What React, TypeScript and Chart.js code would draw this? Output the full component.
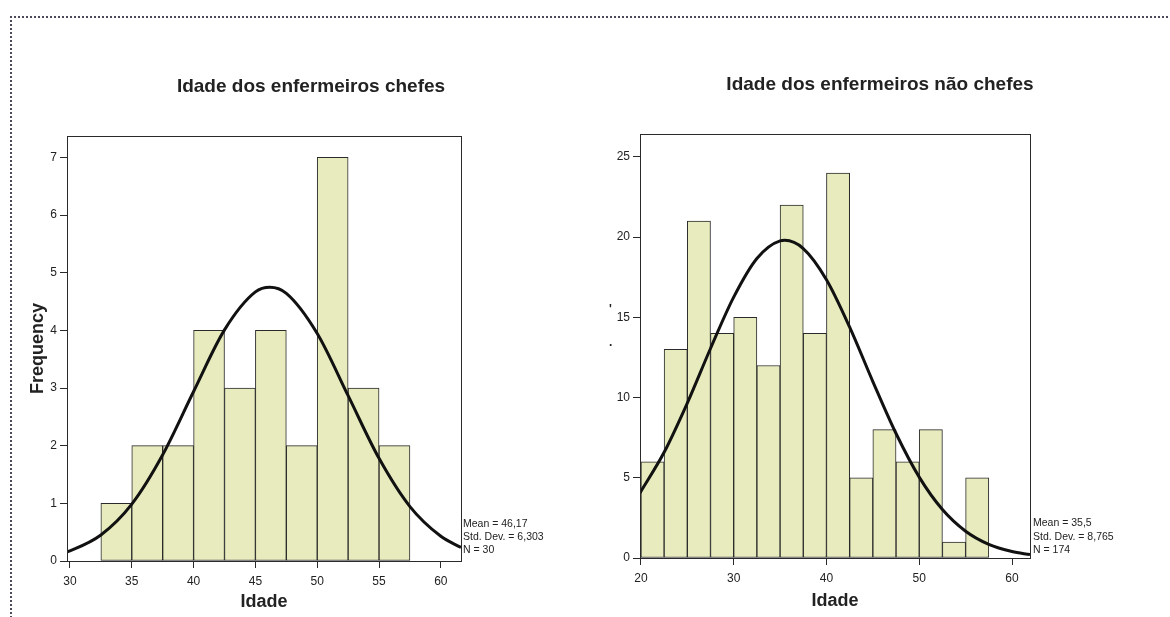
import React, { useEffect, useRef } from "react";
import { Chart, registerables } from "chart.js";

Chart.register(...registerables);

// ---------- data ----------
const leftTitle = "Idade dos enfermeiros chefes";
const rightTitle = "Idade dos enfermeiros não chefes";
const xAxisTitle = "Idade";
const yAxisTitle = "Frequency";

const leftBinCenters = [33.75, 36.25, 38.75, 41.25, 43.75, 46.25, 48.75, 51.25, 53.75, 56.25];
const leftCounts = [1, 2, 2, 4, 3, 4, 2, 7, 3, 2];
const leftCurveX = [29.76, 30, 32.5, 35, 37.5, 40, 42.5, 45, 46.17, 47.5, 50, 52.5, 55, 57.5, 60, 61.63];
const leftCurveY = [0.16, 0.177, 0.452, 0.987, 1.843, 2.94, 4.008, 4.666, 4.747, 4.642, 3.946, 2.867, 1.78, 0.943, 0.428, 0.234];
const leftXTicks = [30, 35, 40, 45, 50, 55, 60];
const leftYTicks = [0, 1, 2, 3, 4, 5, 6, 7];
const leftStats = ["Mean = 46,17", "Std. Dev. = 6,303", "N = 30"];

const rightBinCenters = [21.25, 23.75, 26.25, 28.75, 31.25, 33.75, 36.25, 38.75, 41.25, 43.75, 46.25, 48.75, 51.25, 53.75, 56.25];
const rightCounts = [6, 13, 21, 14, 15, 12, 22, 14, 24, 5, 8, 6, 8, 1, 5];
const rightCurveX = [19.9, 22.5, 25, 27.5, 30, 32.5, 35, 35.5, 37.5, 40, 42.5, 45, 47.5, 50, 52.5, 55, 57.5, 60, 61.94];
const rightCurveY = [4.06, 6.59, 9.66, 13.06, 16.26, 18.67, 19.77, 19.8, 19.29, 17.35, 14.39, 11.0, 7.76, 5.04, 3.02, 1.67, 0.85, 0.4, 0.21];
const rightXTicks = [20, 30, 40, 50, 60];
const rightYTicks = [0, 5, 10, 15, 20, 25];
const rightStats = ["Mean = 35,5", "Std. Dev. = 8,765", "N = 174"];

// ---------- styles ----------
const FONT = "'Liberation Sans', Arial, sans-serif";
const BAR_FILL = "#e8ebbd";
const DARK = "#2a2a2a";

type PanelCfg = {
  left: number;
  width: number;
  height: number;
  padding: { left: number; right: number; top: number; bottom: number };
  yWidth: number;
  xHeight: number;
  xMin: number;
  xMax: number;
  yMax: number;
  centers: number[];
  counts: number[];
  curveX: number[];
  curveY: number[];
  xTicks: number[];
  yTicks: number[];
  title: string;
  titlePos: [number, number];
  stats: string[];
  statsX: number;
  statsY: number[];
  showYTitle: boolean;
  marks?: { text: string; x: number; y: number }[];
};

function makeChart(canvas: HTMLCanvasElement, c: PanelCfg) {
  const decor = {
    id: "decor" + c.left,
    afterDraw(chart: any) {
      const ctx = chart.ctx;
      const a = chart.chartArea;
      ctx.save();
      ctx.strokeStyle = DARK;
      ctx.lineWidth = 1;
      ctx.strokeRect(Math.round(a.left) + 0.5, Math.round(a.top) + 0.5, Math.round(a.right - a.left), Math.round(a.bottom - a.top));
      ctx.fillStyle = "#222";
      ctx.font = `bold 19px ${FONT}`;
      ctx.textAlign = "center";
      ctx.textBaseline = "middle";
      ctx.fillText(c.title, c.titlePos[0], c.titlePos[1]);
      ctx.font = `10.5px ${FONT}`;
      ctx.textAlign = "left";
      c.stats.forEach((s, i) => ctx.fillText(s, c.statsX, c.statsY[i]));
      (c.marks || []).forEach((m) => {
        ctx.font = `bold 12px ${FONT}`;
        ctx.fillText(m.text, m.x, m.y);
      });
      ctx.restore();
    },
  };

  return new Chart(canvas, {
    type: "bar",
    data: {
      datasets: [
        {
          type: "line",
          data: c.curveX.map((x, i) => ({ x, y: c.curveY[i] })),
          borderColor: "#111",
          borderWidth: 3,
          pointRadius: 0,
          cubicInterpolationMode: "monotone",
          fill: false,
          order: 0,
        } as any,
        {
          type: "bar",
          data: c.centers.map((x, i) => ({ x, y: c.counts[i] })),
          backgroundColor: BAR_FILL,
          borderColor: DARK,
          borderWidth: 1,
          borderSkipped: false,
          barPercentage: 1,
          categoryPercentage: 1,
          order: 1,
        } as any,
      ],
    },
    options: {
      animation: false,
      responsive: false,
      maintainAspectRatio: false,
      layout: { padding: c.padding },
      plugins: { legend: { display: false }, title: { display: false }, tooltip: { enabled: false } },
      scales: {
        x: {
          type: "linear",
          offset: false,
          min: c.xMin,
          max: c.xMax,
          afterBuildTicks: (s: any) => {
            s.ticks = c.xTicks.map((v) => ({ value: v }));
          },
          afterFit: (s: any) => {
            s.height = c.xHeight;
          },
          grid: { display: true, offset: false, drawOnChartArea: false, drawTicks: true, tickLength: 7, color: DARK },
          border: { display: true, color: DARK },
          ticks: { color: "#222", font: { size: 12, family: FONT }, padding: 6, maxRotation: 0, autoSkip: false },
          title: { display: true, text: xAxisTitle, color: "#222", font: { size: 18, weight: "bold", family: FONT }, padding: 0 },
        },
        y: {
          type: "linear",
          min: 0,
          max: c.yMax,
          afterBuildTicks: (s: any) => {
            s.ticks = c.yTicks.map((v) => ({ value: v }));
          },
          afterFit: (s: any) => {
            s.width = c.yWidth;
          },
          grid: { display: true, drawOnChartArea: false, drawTicks: true, tickLength: 7, color: DARK },
          border: { display: true, color: DARK },
          ticks: { color: "#222", font: { size: 12, family: FONT }, padding: 3, autoSkip: false },
          title: { display: c.showYTitle, text: yAxisTitle, color: "#222", font: { size: 18, weight: "bold", family: FONT }, padding: 0 },
        },
      },
    } as any,
    plugins: [decor],
  });
}

const leftCfg: PanelCfg = {
  left: 0,
  width: 620,
  height: 617,
  padding: { left: 27, right: 159, top: 136, bottom: 4 },
  yWidth: 40,
  xHeight: 52,
  xMin: 29.76,
  xMax: 61.63,
  yMax: 7.37,
  centers: leftBinCenters,
  counts: leftCounts,
  curveX: leftCurveX,
  curveY: leftCurveY,
  xTicks: leftXTicks,
  yTicks: leftYTicks,
  title: leftTitle,
  titlePos: [311, 87],
  stats: leftStats,
  statsX: 463,
  statsY: [524, 537, 550],
  showYTitle: true,
};

const rightCfg: PanelCfg = {
  left: 590,
  width: 580,
  height: 617,
  padding: { left: 0, right: 140, top: 134, bottom: 5 },
  yWidth: 50,
  xHeight: 54,
  xMin: 19.9,
  xMax: 61.94,
  yMax: 26.43,
  centers: rightBinCenters,
  counts: rightCounts,
  curveX: rightCurveX,
  curveY: rightCurveY,
  xTicks: rightXTicks,
  yTicks: rightYTicks,
  title: rightTitle,
  titlePos: [290, 85],
  stats: rightStats,
  statsX: 443,
  statsY: [523, 537, 550],
  showYTitle: false,
  marks: [
    { text: "'", x: 19, y: 310 },
    { text: ".", x: 19, y: 343 },
  ],
};

function Panel({ cfg }: { cfg: PanelCfg }) {
  const ref = useRef<HTMLCanvasElement | null>(null);
  useEffect(() => {
    if (!ref.current) return;
    const ch = makeChart(ref.current, cfg);
    return () => ch.destroy();
  }, [cfg]);
  return (
    <canvas
      ref={ref}
      width={cfg.width}
      height={cfg.height}
      style={{ position: "absolute", left: cfg.left, top: 0, width: cfg.width, height: cfg.height }}
    />
  );
}

export default function App() {
  return (
    <div
      style={{
        position: "fixed",
        left: 0,
        top: 0,
        width: 1170,
        height: 617,
        overflow: "hidden",
        background: "#fff",
        fontFamily: FONT,
      }}
    >
      <div
        style={{
          position: "absolute",
          left: 10,
          top: 16,
          width: 1200,
          height: 700,
          borderTop: "2px dotted #4a4a5a",
          borderLeft: "2px dotted #4a4a5a",
        }}
      />
      <Panel cfg={leftCfg} />
      <Panel cfg={rightCfg} />
    </div>
  );
}
